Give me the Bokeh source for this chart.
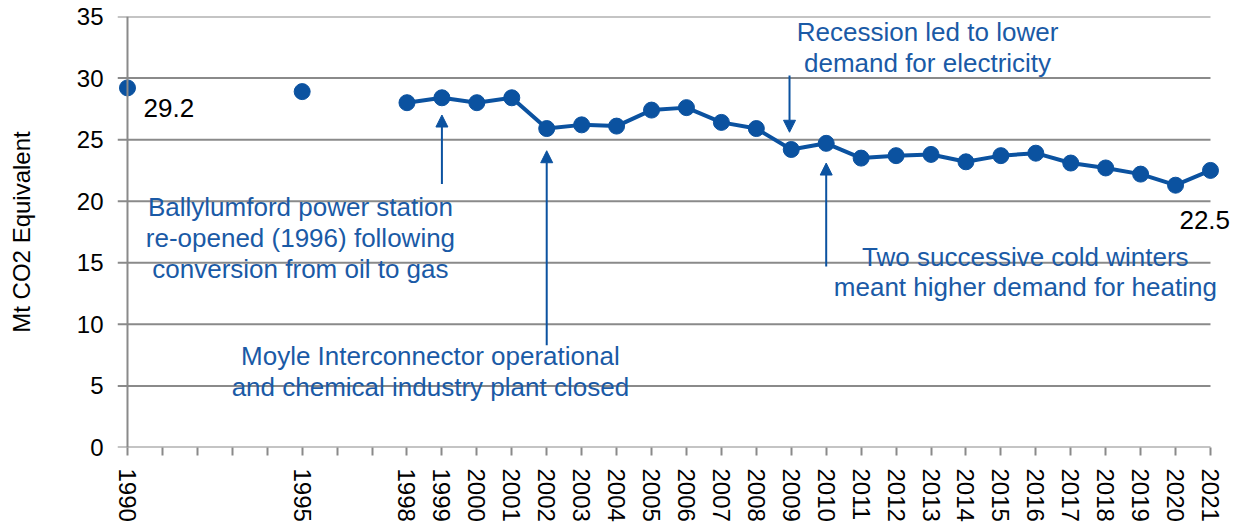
import math
from bokeh.plotting import figure
from bokeh.models import Range1d, FixedTicker, Span, Label, Arrow, NormalHead, ColumnDataSource
from bokeh.embed import file_html
from bokeh.resources import INLINE

# ---------------- data ----------------
years = [1990, 1995, 1998, 1999, 2000, 2001, 2002, 2003, 2004, 2005, 2006, 2007, 2008,
         2009, 2010, 2011, 2012, 2013, 2014, 2015, 2016, 2017, 2018, 2019, 2020, 2021]
emissions = [29.2, 28.9, 28.0, 28.4, 28.0, 28.4, 25.9, 26.2, 26.1, 27.4, 27.6, 26.4, 25.9,
             24.2, 24.7, 23.5, 23.7, 23.8, 23.2, 23.7, 23.9, 23.1, 22.7, 22.2, 21.3, 22.5]
tick_years = [1990, 1991, 1992, 1993, 1994, 1995, 1996, 1997, 1998, 1999, 2000, 2001, 2002,
              2003, 2004, 2005, 2006, 2007, 2008, 2009, 2010, 2011, 2012, 2013, 2014, 2015,
              2016, 2017, 2018, 2019, 2020, 2021]
y_ticks = [0, 5, 10, 15, 20, 25, 30, 35]
line_start_year = 1998

notes = [
    "Ballylumford power station\nre-opened (1996) following\nconversion from oil to gas",
    "Moyle Interconnector operational\nand chemical industry plant closed",
    "Recession led to lower\ndemand for electricity",
    "Two successive cold winters\nmeant higher demand for heating",
]
note_x = [1994.95, 1998.67, 2012.9, 2015.7]
note_y = [17.0, 6.15, 32.45, 14.25]
# arrows: (x, y_from, y_tip)
arrow_x = [1999, 2002, 2008.95, 2010]
arrow_from = [21.4, 8.3, 30.2, 14.7]
arrow_to = [27.0, 24.1, 25.6, 23.1]

BLUE = "#0B52A0"
TEXT_BLUE = "#1A5AA6"
GRID = "#8A8A8A"
FONT = "Liberation Sans"

x_lo, x_hi = 1989.714, 2021.63

p = figure(width=1232, height=525, output_backend="svg", toolbar_location=None,
           x_range=Range1d(x_lo, x_hi), y_range=Range1d(0, 35),
           min_border_left=117, min_border_right=0, min_border_top=16, min_border_bottom=78)
p.outline_line_color = None
p.xgrid.visible = False
p.ygrid.visible = False

# horizontal grid lines (incl. the zero baseline)
p.segment(x0=[x_lo] * len(y_ticks), x1=[tick_years[-1]] * len(y_ticks), y0=y_ticks, y1=y_ticks,
          line_color=GRID, line_width=2, level="underlay")
# vertical axis line at 1990
p.add_layout(Span(location=tick_years[0], dimension="height", line_color=GRID, line_width=2))

# y axis
p.yaxis.ticker = FixedTicker(ticks=y_ticks)
p.yaxis.axis_line_color = None
p.yaxis.major_tick_line_color = None
p.yaxis.major_tick_out = 0
p.yaxis.major_tick_in = 0
p.yaxis.minor_tick_line_color = None
p.yaxis.major_label_standoff = 14
p.yaxis.major_label_text_font = FONT
p.yaxis.major_label_text_font_size = "24px"
p.yaxis.major_label_text_color = "black"
p.yaxis.axis_label = "Mt CO2 Equivalent"
p.yaxis.axis_label_text_font = FONT
p.yaxis.axis_label_text_font_size = "24px"
p.yaxis.axis_label_text_font_style = "normal"
p.yaxis.axis_label_text_color = "black"
p.yaxis.axis_label_standoff = 39

# x axis
p.xaxis.ticker = FixedTicker(ticks=tick_years)
p.xaxis.major_label_overrides = {y: (str(y) if y in years else "") for y in tick_years}
p.xaxis.axis_line_color = None
p.xaxis.major_tick_line_color = GRID
p.xaxis.major_tick_line_width = 2
p.xaxis.major_tick_in = 0
p.xaxis.major_tick_out = 8
p.xaxis.minor_tick_line_color = None
p.xaxis.major_label_orientation = -math.pi / 2
p.xaxis.major_label_standoff = 13
p.xaxis.major_label_text_font = FONT
p.xaxis.major_label_text_font_size = "24px"
p.xaxis.major_label_text_color = "black"

# series
line_src = ColumnDataSource(dict(
    x=[y for y in years if y >= line_start_year],
    y=[v for y, v in zip(years, emissions) if y >= line_start_year]))
p.line("x", "y", source=line_src, line_color=BLUE, line_width=4)
p.scatter(years, emissions, size=16, fill_color=BLUE, line_color=BLUE)

# data labels
p.add_layout(Label(x=years[0] + 0.46, y=27.6, text=f"{emissions[0]:.1f}", text_font=FONT,
                   text_font_size="26px", text_color="black", text_align="left",
                   text_baseline="middle"))
p.add_layout(Label(x=years[-1] + 0.56, y=18.5, text=f"{emissions[-1]:.1f}", text_font=FONT,
                   text_font_size="26px", text_color="black", text_align="right",
                   text_baseline="middle"))

# annotations
for t, x, y in zip(notes, note_x, note_y):
    p.add_layout(Label(x=x, y=y, text=t, text_font=FONT, text_font_size="26px",
                       text_color=TEXT_BLUE, text_align="center", text_baseline="middle",
                       text_line_height=1.03))
for x, y0, y1 in zip(arrow_x, arrow_from, arrow_to):
    p.add_layout(Arrow(end=NormalHead(size=12, fill_color=BLUE, line_color=BLUE),
                       x_start=x, y_start=y0, x_end=x, y_end=y1,
                       line_color=BLUE, line_width=2))

open("out.html", "w").write(file_html(p, INLINE))
